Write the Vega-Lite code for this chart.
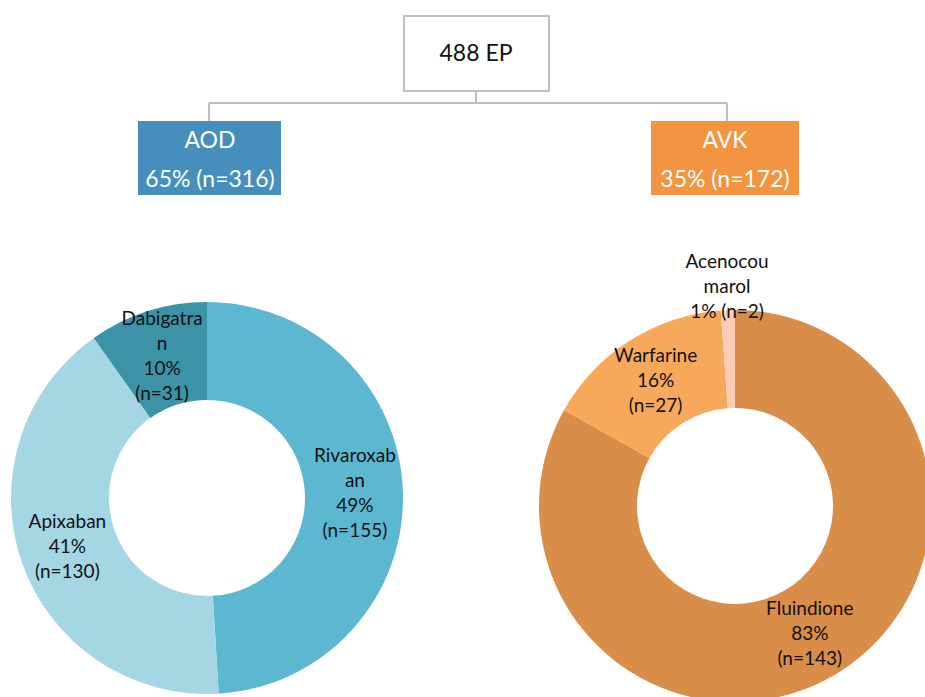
{
  "$schema": "https://vega.github.io/schema/vega-lite/v6.json",
  "padding": 0,
  "background": "white",
  "config": {"view": {"stroke": null}, "font": "Lato"},
  "spacing": 0,
  "vconcat": [
    {
      "width": 925,
      "height": 200,
      "layer": [
        {
          "data": {"values": [
            {"x": 476, "y": 91, "x2": 476, "y2": 103},
            {"x": 209, "y": 103, "x2": 727, "y2": 103},
            {"x": 209, "y": 103, "x2": 209, "y2": 122},
            {"x": 727, "y": 103, "x2": 727, "y2": 122}
          ]},
          "mark": {"type": "rule", "color": "#bfbfbf", "strokeWidth": 2},
          "encoding": {
            "x": {"field": "x", "type": "quantitative", "scale": {"domain": [0, 925], "nice": false, "zero": false}, "axis": null},
            "y": {"field": "y", "type": "quantitative", "scale": {"domain": [0, 200], "nice": false, "zero": false, "reverse": true}, "axis": null},
            "x2": {"field": "x2"},
            "y2": {"field": "y2"}
          }
        },
        {
          "data": {"values": [
            {"node": "488 EP", "x": 404, "x2": 549, "y": 16, "y2": 91},
            {"node": "AOD", "x": 139, "x2": 280, "y": 122, "y2": 194},
            {"node": "AVK", "x": 652, "x2": 798, "y": 122, "y2": 194}
          ]},
          "mark": {"type": "rect", "strokeWidth": 2},
          "encoding": {
            "x": {"field": "x", "type": "quantitative", "scale": {"domain": [0, 925], "nice": false, "zero": false}, "axis": null},
            "y": {"field": "y", "type": "quantitative", "scale": {"domain": [0, 200], "nice": false, "zero": false, "reverse": true}, "axis": null},
            "x2": {"field": "x2"},
            "y2": {"field": "y2"},
            "fill": {"field": "node", "type": "nominal", "scale": {"domain": ["488 EP", "AOD", "AVK"], "range": ["#ffffff", "#468fbd", "#f29440"]}, "legend": null},
            "stroke": {"field": "node", "type": "nominal", "scale": {"domain": ["488 EP", "AOD", "AVK"], "range": ["#bfbfbf", "#468fbd", "#f29440"]}, "legend": null}
          }
        },
        {
          "data": {"values": [
            {"node": "488 EP", "text": "488 EP", "x": 476, "y": 54},
            {"node": "AOD", "text": "AOD", "x": 210, "y": 141},
            {"node": "AOD", "text": "65% (n=316)", "x": 210, "y": 180},
            {"node": "AVK", "text": "AVK", "x": 725, "y": 141},
            {"node": "AVK", "text": "35% (n=172)", "x": 725, "y": 180}
          ]},
          "mark": {"type": "text", "fontSize": 23, "align": "center", "baseline": "middle", "font": "Lato"},
          "encoding": {
            "x": {"field": "x", "type": "quantitative", "scale": {"domain": [0, 925], "nice": false, "zero": false}, "axis": null},
            "y": {"field": "y", "type": "quantitative", "scale": {"domain": [0, 200], "nice": false, "zero": false, "reverse": true}, "axis": null},
            "text": {"field": "text"},
            "color": {"field": "node", "type": "nominal", "scale": {"domain": ["488 EP", "AOD", "AVK"], "range": ["#111111", "#ffffff", "#ffffff"]}, "legend": null}
          }
        }
      ]
    },
    {
      "spacing": 0,
      "resolve": {"scale": {"color": "independent", "theta": "independent"}},
      "hconcat": [
        {
          "width": 414,
          "height": 596,
          "data": {"values": [
            {"drug": "Rivaroxaban", "n": 155, "label": "Rivaroxab\nan\n49%\n(n=155)"},
            {"drug": "Apixaban", "n": 130, "label": "Apixaban\n41%\n(n=130)"},
            {"drug": "Dabigatran", "n": 31, "label": "Dabigatra\nn\n10%\n(n=31)"}
          ]},
          "encoding": {
            "theta": {"field": "n", "type": "quantitative", "stack": true},
            "order": {"field": "n", "type": "quantitative", "sort": "descending"}
          },
          "layer": [
            {
              "mark": {"type": "arc", "innerRadius": 98, "outerRadius": 196},
              "encoding": {
                "color": {"field": "drug", "type": "nominal", "scale": {"domain": ["Rivaroxaban", "Apixaban", "Dabigatran"], "range": ["#5cb8d1", "#a4d6e4", "#3c93a8"]}, "legend": null}
              }
            },
            {
              "mark": {"type": "text", "radius": 148, "dy": -37.5, "fontSize": 19, "lineBreak": "\n", "lineHeight": 25, "align": "center", "baseline": "middle", "color": "#111111", "font": "Lato"},
              "encoding": {"text": {"condition": {"test": "datum.drug === 'Apixaban'", "value": ""}, "field": "label"}}
            },
            {
              "mark": {"type": "text", "radius": 148, "dy": -25, "fontSize": 19, "lineBreak": "\n", "lineHeight": 25, "align": "center", "baseline": "middle", "color": "#111111", "font": "Lato"},
              "encoding": {"text": {"condition": {"test": "datum.drug !== 'Apixaban'", "value": ""}, "field": "label"}}
            }
          ]
        },
        {
          "width": 642,
          "height": 612,
          "data": {"values": [
            {"drug": "Fluindione", "n": 143, "label": "Fluindione\n83%\n(n=143)"},
            {"drug": "Warfarine", "n": 27, "label": "Warfarine\n16%\n(n=27)"},
            {"drug": "Acenocoumarol", "n": 2, "label": "Acenocou\nmarol\n1% (n=2)"}
          ]},
          "encoding": {
            "theta": {"field": "n", "type": "quantitative", "stack": true},
            "order": {"field": "n", "type": "quantitative", "sort": "descending"}
          },
          "layer": [
            {
              "mark": {"type": "arc", "innerRadius": 98, "outerRadius": 196},
              "encoding": {
                "color": {"field": "drug", "type": "nominal", "scale": {"domain": ["Fluindione", "Warfarine", "Acenocoumarol"], "range": ["#d88d48", "#f8a85a", "#fbcdb4"]}, "legend": null}
              }
            },
            {
              "mark": {"type": "text", "radius": 148, "dy": -25, "fontSize": 19, "lineBreak": "\n", "lineHeight": 25, "align": "center", "baseline": "middle", "color": "#111111", "font": "Lato"},
              "encoding": {"text": {"condition": {"test": "datum.drug === 'Acenocoumarol'", "value": ""}, "field": "label"}}
            },
            {
              "mark": {"type": "text", "radius": 219, "dy": -25, "fontSize": 19, "lineBreak": "\n", "lineHeight": 25, "align": "center", "baseline": "middle", "color": "#111111", "font": "Lato"},
              "encoding": {"text": {"condition": {"test": "datum.drug !== 'Acenocoumarol'", "value": ""}, "field": "label"}}
            }
          ]
        }
      ]
    }
  ]
}
